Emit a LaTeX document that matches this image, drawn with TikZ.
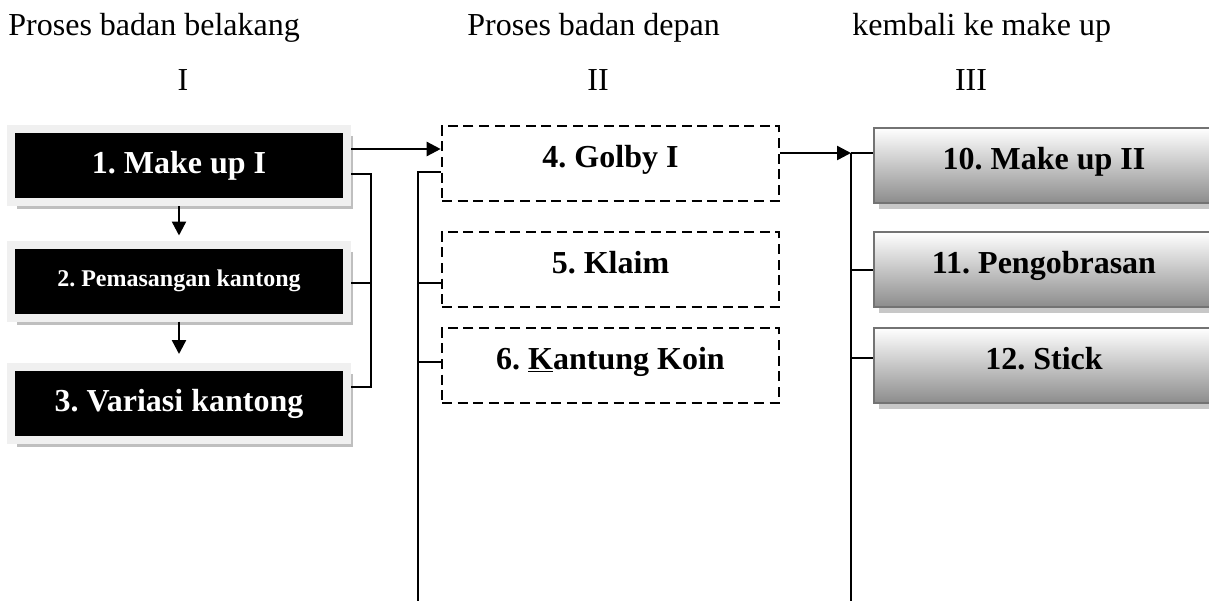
\documentclass[tikz,border=0pt]{standalone}
\usepackage{fontspec}
\setmainfont{Liberation Serif}
\usetikzlibrary{positioning,arrows.meta,shadows}
\frenchspacing

\tikzset{
    kepala/.style={font=\fontsize{16}{19}\selectfont, inner sep=0pt},
    hitam/.style={fill=black, draw=black!6, line width=4pt, text=white,
        font=\bfseries\fontsize{16}{19}\selectfont, inner sep=0pt,
        minimum width=168pt, minimum height=36.5pt,
        drop shadow={shadow xshift=3pt, shadow yshift=-3.5pt, fill=black!25, opacity=1}},
    putus/.style={draw, dashed, dash pattern=on 5pt off 2.8pt, line width=1.3pt,
        font=\bfseries\fontsize{16}{19}\selectfont, inner sep=0pt,
        minimum width=168.5pt, minimum height=37.5pt, text height=11pt, text depth=7.5pt},
    abu/.style={draw=black!55, line width=1.3pt, top color=white, bottom color=black!45,
        font=\bfseries\fontsize{16}{19}\selectfont, inner sep=0pt,
        minimum width=170pt, minimum height=37.5pt, text height=11pt, text depth=7.5pt,
        drop shadow={shadow xshift=2.5pt, shadow yshift=-3pt, fill=black!22, opacity=1}},
    garis/.style={line width=1.2pt},
    panah/.style={garis, -{Triangle[length=7pt,width=7pt]}}
}

\begin{document}
\begin{tikzpicture}[x=0.5pt, y=-0.5pt]
                \useasboundingbox (0,0) rectangle (1209,601);
                % judul kolom
                \node[kepala, anchor=base west] (t1) at (8,35) {Proses badan belakang};
                \node[kepala, anchor=base west] (t2) at (467,35) {Proses badan depan};
                \node[kepala, anchor=base west] (t3) at (852,35) {kembali ke make up};
                \node[kepala, anchor=base] (r1) at (183,90) {I};
                \node[kepala, anchor=base] (r2) at (598,90) {II};
                \node[kepala, anchor=base] (r3) at (971,90) {III};
                % kolom I
                \node[hitam] (m1) at (179,165.5) {1. Make up I};
                \node[hitam, font=\bfseries\fontsize{12}{14}\selectfont] (m2) at (179,281) {2. Pemasangan kantong};
                \node[hitam] (m3) at (179,403.5) {3. Variasi kantong};
                % kolom II
                \node[putus] (g4) at (610.5,163.5) {4. Golby I};
                \node[putus] (g5) at (610.5,269.5) {5. Klaim};
                \node[putus] (g6) at (610.5,365.5) {6. \underline{K}antung Koin};
                % kolom III
                \node[abu] (h10) at (1044,165.5) {10. Make up II};
                \node[abu] (h11) at (1044,269.5) {11. Pengobrasan};
                \node[abu] (h12) at (1044,365.5) {12. Stick};
                % titik bantu
                \coordinate (ka) at (371,174);
                \coordinate (kb) at (371,387);
                \coordinate (bus2) at (418,172);
                \coordinate (bus3) at (851,153);
                % panah kolom I
                \draw[panah] (m1.south) -- ([yshift=2.5pt]m2.north);
                \draw[panah] (m2.south) -- ([yshift=4.5pt]m3.north);
                \draw[garis] (m1.east |- ka) -- (ka) -- (kb) -- (m3.east |- kb);
                \draw[garis] (m2.east |- 0,283) -- (ka |- 0,283);
                % ke kolom II
                \draw[panah] (m1.east |- 0,149) -- (g4.west |- 0,149);
                \draw[garis] (g4.west |- bus2) -- (bus2) -- (bus2 |- 0,601);
                \draw[garis] (g5.west |- 0,283) -- (bus2 |- 0,283);
                \draw[garis] (g6.west |- 0,362) -- (bus2 |- 0,362);
                % ke kolom III
                \draw[panah] (g4.east |- bus3) -- (bus3);
                \draw[garis] (bus3) -- (h10.west |- bus3);
                \draw[garis] (bus3) -- (bus3 |- 0,601);
                \draw[garis] (h11.west |- 0,270) -- (bus3 |- 0,270);
                \draw[garis] (h12.west |- 0,358) -- (bus3 |- 0,358);
            \end{tikzpicture}
\end{document}
